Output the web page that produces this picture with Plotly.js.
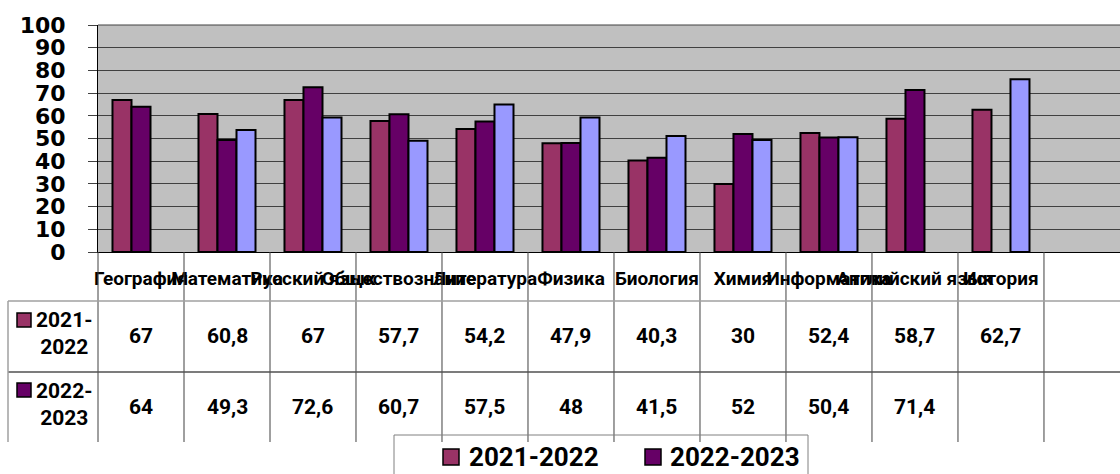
<!DOCTYPE html>
<html><head><meta charset="utf-8">
<script src="https://cdn.plot.ly/plotly-3.0.1.min.js"></script>
<style>html,body{margin:0;padding:0;overflow:hidden;background:#fff}</style>
</head><body><div id="chart" style="width:1120px;height:474px"></div>
<script>
const categories = ['География','Математика','Русский язык','Обществознание','Литература','Физика','Биология','Химия','Информатика','Английский язык','История'];
const seriesNames = ['2021-2022','2022-2023'];
const values2021 = [67,60.8,67,57.7,54.2,47.9,40.3,30,52.4,58.7,62.7];
const values2022 = [64,49.3,72.6,60.7,57.5,48,41.5,52,50.4,71.4,null];
const valuesThird = [null,53.7,59.3,49.0,65.0,59.2,51.1,49.3,50.5,null,76.1];
const yTicks = [0,10,20,30,40,50,60,70,80,90,100];

const colors = ['#993366','#660066','#9999FF'];
const L=98, T=25, W=1022, H=227;
const px = p => (p-L)/W;
const py = p => (T+H-p)/H;
const fmt = v => (v===null||v===undefined) ? '' : String(v).replace('.', ',');
const bold = 'Roboto, "DejaVu Sans", sans-serif';

const bar = (y, i, name) => ({
  type:'bar', x:categories, y:y, name:name, showlegend:false,
  marker:{color:colors[i], line:{color:'#000', width:2}}, hoverinfo:'skip'
});
const data = [bar(values2021,0,seriesNames[0]), bar(values2022,1,seriesNames[1]), bar(valuesThird,2,'')];

const shapes = [];
const annotations = [];
const tableTop = 252, tableBottom = 442, row1 = 301, row2 = 372;
shapes.push({type:'line', xref:'paper', yref:'paper', x0:0, x1:0, y0:py(tableTop), y1:py(tableBottom), line:{color:'#404040', width:1}});
for (let i=0;i<categories.length;i++){
  shapes.push({type:'line', xref:'x', yref:'paper', x0:i+0.5, x1:i+0.5, y0:py(tableTop), y1:py(tableBottom), line:{color:'#404040', width:1}});
}
shapes.push({type:'line', xref:'paper', yref:'paper', x0:px(8), x1:px(1120), y0:py(row1), y1:py(row1), line:{color:'#a0a0a0', width:1.5}});
shapes.push({type:'line', xref:'paper', yref:'paper', x0:px(8), x1:px(1120), y0:py(row2), y1:py(row2), line:{color:'#505050', width:1.5}});
shapes.push({type:'line', xref:'paper', yref:'paper', x0:px(8), x1:px(8), y0:py(row1), y1:py(tableBottom), line:{color:'#a0a0a0', width:1.5}});

const rowCenters = [333, 404];
const rowKeyY = [320, 390];
const rowVals = [values2021, values2022];
const valY = [336, 407];
for (let r=0;r<2;r++){
  shapes.push({type:'rect', xref:'paper', yref:'paper', x0:px(17), x1:px(31), y0:py(rowKeyY[r]-7), y1:py(rowKeyY[r]+7), fillcolor:colors[r], line:{color:'#000', width:1.5}});
  const parts = seriesNames[r].split('-');
  annotations.push({xref:'paper', yref:'paper', x:px(64), y:py(rowCenters[r]), text:parts[0]+'-<br>'+parts[1], showarrow:false, align:'center', xanchor:'center', yanchor:'middle', font:{family:bold, size:21, color:'#000', weight:700}});
  for (let i=0;i<categories.length;i++){
    annotations.push({xref:'x', yref:'paper', x:categories[i], y:py(valY[r]), text:fmt(rowVals[r][i]), showarrow:false, xanchor:'center', yanchor:'middle', font:{family:bold, size:21, color:'#000', weight:700}});
  }
}

shapes.push({type:'rect', xref:'paper', yref:'paper', x0:px(394), x1:px(808), y0:py(435), y1:py(490), line:{color:'#808080', width:1}, fillcolor:'rgba(0,0,0,0)'});
const legKeyX = [443, 645];
const legTextX = [467, 668];
for (let r=0;r<2;r++){
  shapes.push({type:'rect', xref:'paper', yref:'paper', x0:px(legKeyX[r]), x1:px(legKeyX[r]+16), y0:py(449), y1:py(465), fillcolor:colors[r], line:{color:'#000', width:1.5}});
  annotations.push({xref:'paper', yref:'paper', x:px(legTextX[r]), y:py(457), text:seriesNames[r], showarrow:false, xanchor:'left', yanchor:'middle', font:{family:bold, size:26, color:'#000', weight:700}});
}

const layout = {
  width:1120, height:474,
  margin:{l:L, r:0, t:T, b:474-T-H, pad:0},
  paper_bgcolor:'#fff', plot_bgcolor:'#C0C0C0',
  barmode:'group', bargap:0.337, bargroupgap:0,
  showlegend:false,
  xaxis:{type:'category', categoryorder:'array', categoryarray:categories, range:[-0.5, 11.384],
    showgrid:false, zeroline:false, showline:true, linecolor:'#000', linewidth:1, mirror:false,
    ticks:'', tickangle:0, ticklabelstandoff:9, automargin:false,
    tickfont:{family:bold, size:19, color:'#000', weight:700}},
  yaxis:{range:[0,100], tickvals:yTicks, ticktext:yTicks.map(String),
    showgrid:true, gridcolor:'#404040', gridwidth:1, zeroline:false,
    showline:true, linecolor:'#000', linewidth:1,
    ticks:'outside', ticklen:9, tickcolor:'#404040', ticklabelstandoff:18, automargin:false,
    tickfont:{family:'"DejaVu Sans", sans-serif', size:22, color:'#000', weight:700}},
  shapes:shapes, annotations:annotations
};
layout.shapes.push({type:'line', xref:'paper', yref:'paper', x0:0, x1:1, y0:1, y1:1, line:{color:'#404040', width:1}});
Plotly.newPlot('chart', data, layout, {displayModeBar:false, staticPlot:true});
</script></body></html>
